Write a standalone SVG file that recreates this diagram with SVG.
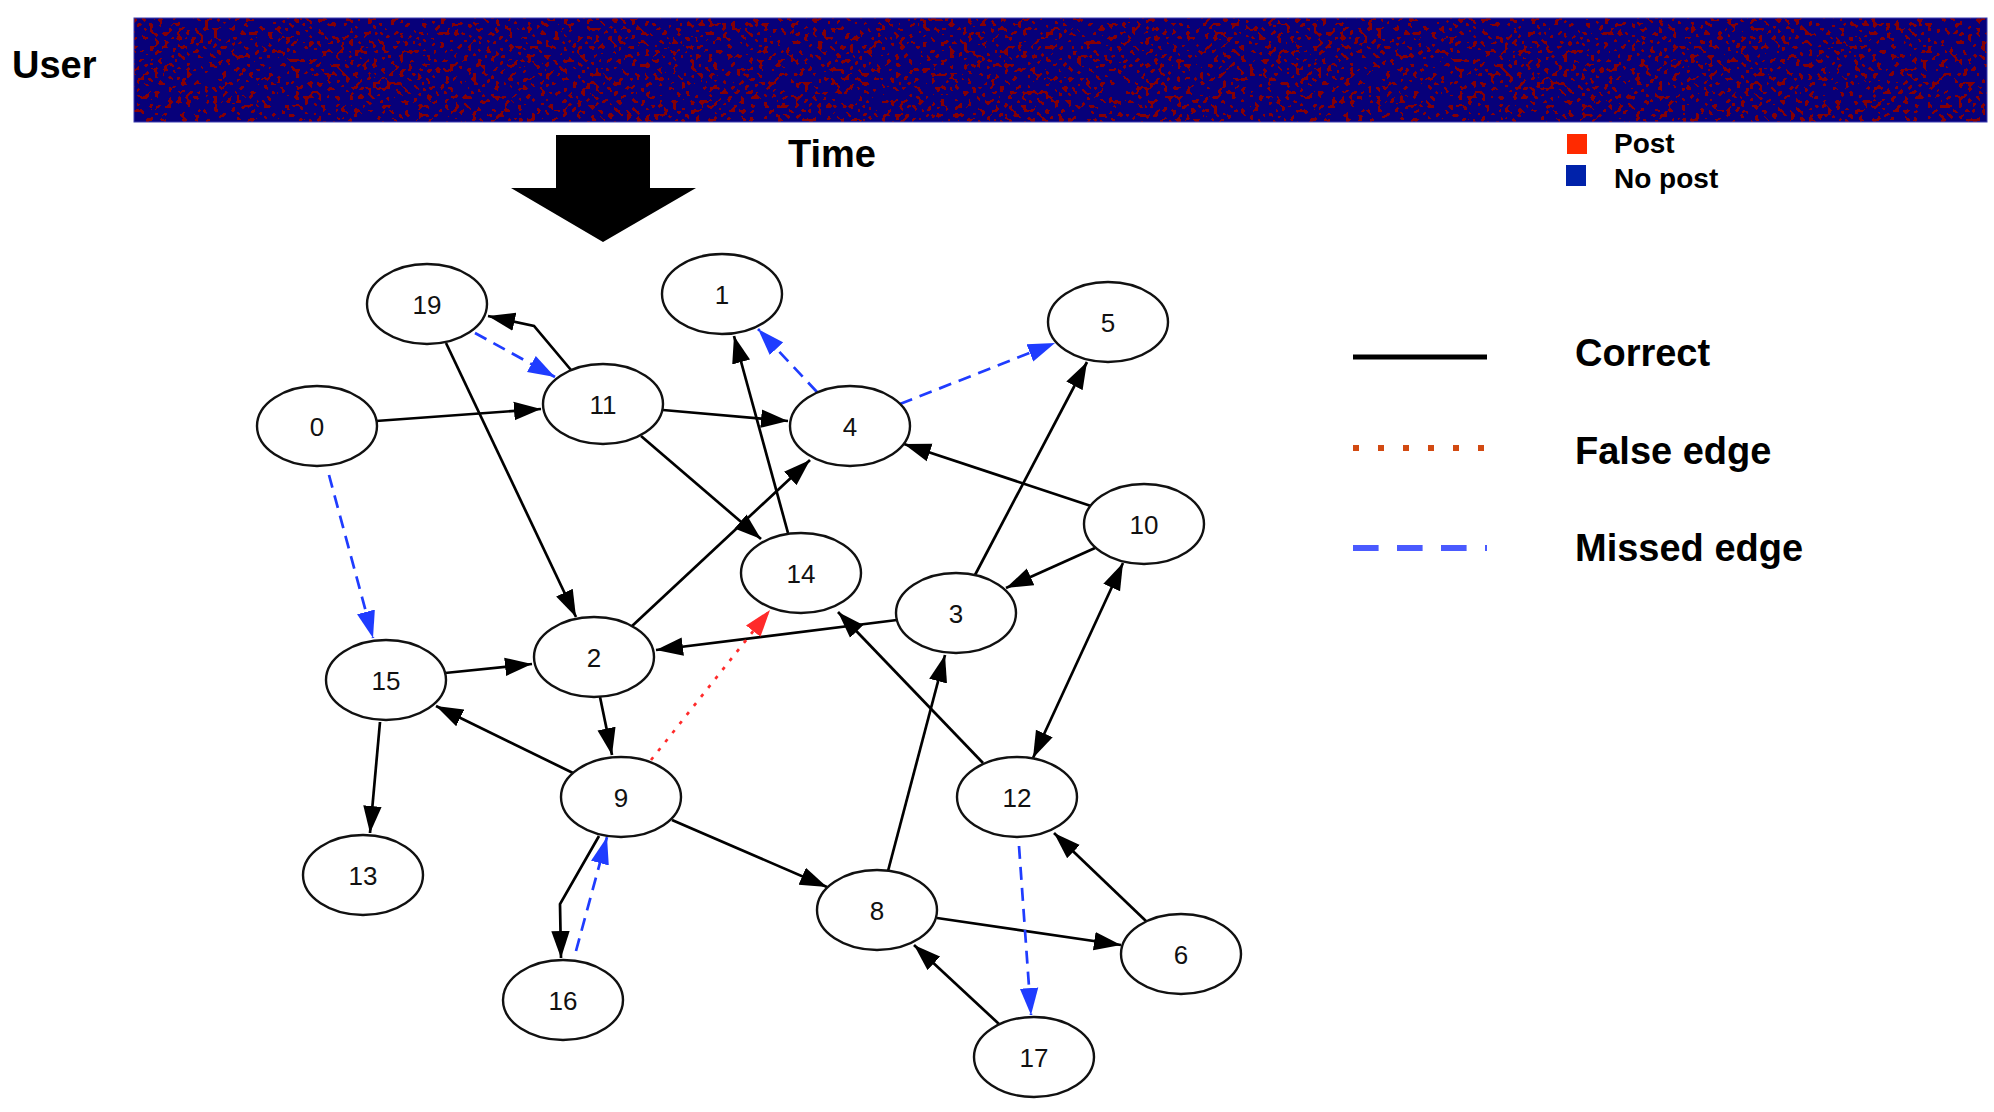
<svg xmlns="http://www.w3.org/2000/svg" width="1994" height="1112" viewBox="0 0 1994 1112">
<style>
  .bold { font-family: "Liberation Sans", Arial, sans-serif; font-weight: bold; fill: #000; }
  .node ellipse { fill: #fff; stroke: #111; stroke-width: 2.4; }
  .node text { font-family: "Liberation Sans", Arial, sans-serif; font-size: 26px; text-anchor: middle; fill: #111; }
  .e { fill: none; stroke: #000; stroke-width: 2.7; }
  .ok { stroke: #000; marker-end: url(#ahBlack); }
  .miss { stroke: #1f3cff; stroke-dasharray: 13 8; marker-end: url(#ahBlue); }
  .false { stroke: #ff2a2a; stroke-dasharray: 3.5 8; marker-end: url(#ahRed); }
</style>
<defs>
  <marker id="ahBlack" markerUnits="userSpaceOnUse" markerWidth="28" markerHeight="20" refX="27" refY="10" orient="auto">
    <path d="M0,0.8 L27,10 L0,19.2 z" fill="#000"/>
  </marker>
  <marker id="ahBlackStart" markerUnits="userSpaceOnUse" markerWidth="28" markerHeight="20" refX="27" refY="10" orient="auto-start-reverse">
    <path d="M0,0.8 L27,10 L0,19.2 z" fill="#000"/>
  </marker>
  <marker id="ahBlue" markerUnits="userSpaceOnUse" markerWidth="28" markerHeight="20" refX="27" refY="10" orient="auto">
    <path d="M0,0.8 L27,10 L0,19.2 z" fill="#1f3cff"/>
  </marker>
  <marker id="ahRed" markerUnits="userSpaceOnUse" markerWidth="28" markerHeight="20" refX="27" refY="10" orient="auto">
    <path d="M0,0.8 L27,10 L0,19.2 z" fill="#ff2a2a"/>
  </marker>
  <filter id="speck" filterUnits="objectBoundingBox" x="0" y="0" width="1" height="1" color-interpolation-filters="sRGB">
    <feTurbulence type="fractalNoise" baseFrequency="0.22" numOctaves="1" seed="7" result="n"/>
    <feColorMatrix in="n" type="matrix" values="0 0 0 0 0.52  0 0 0 0 0  0 0 0 0 0.02  1 0 0 0 0" result="a"/>
    <feComponentTransfer in="a">
      <feFuncA type="discrete" tableValues="0 0 0 0 0 0 0 0 0 0 0 0 1 1 1 1 1 1 1 1"/>
    </feComponentTransfer>
  </filter>
</defs>

<rect width="1994" height="1112" fill="#fff"/>

<!-- top banner -->
<g id="banner">
  <rect x="134" y="18" width="1853" height="104" fill="#07007a"/>
  <rect x="134" y="18" width="1853" height="104" fill="#000" filter="url(#speck)"/>
  <rect x="134" y="18" width="1853" height="104" fill="none" stroke="#3c3cb0" stroke-width="1"/>
</g>
<text class="bold" x="12" y="78" font-size="38">User</text>
<text class="bold" x="788" y="167" font-size="38">Time</text>

<!-- big arrow -->
<path id="timeArrow" d="M556,135 L650,135 L650,188 L696,188 L603,242 L511,188 L556,188 z" fill="#000"/>

<!-- post legend -->
<g id="postLegend">
  <rect x="1567" y="134" width="20" height="20" fill="#ff2a00"/>
  <text class="bold" x="1614" y="153" font-size="28">Post</text>
  <rect x="1566" y="165" width="20" height="21" fill="#0022aa"/>
  <text class="bold" x="1614" y="188" font-size="28">No post</text>
</g>

<!-- edge legend -->
<g id="edgeLegend">
  <line x1="1353" y1="357" x2="1487" y2="357" stroke="#000" stroke-width="5"/>
  <text class="bold" x="1575" y="366" font-size="38">Correct</text>
  <line x1="1353" y1="448" x2="1487" y2="448" stroke="#d24a12" stroke-width="6" stroke-dasharray="6 19"/>
  <text class="bold" x="1575" y="464" font-size="38">False edge</text>
  <line x1="1353" y1="548" x2="1487" y2="548" stroke="#4a5aff" stroke-width="6" stroke-dasharray="25.6 18.4"/>
  <text class="bold" x="1575" y="561" font-size="38">Missed edge</text>
</g>

<!-- connectors -->
<g id="connectors">
  <line class="e ok" x1="446" y1="343" x2="576" y2="617"/>
  <polyline class="e ok" points="571,370 534,326 488,316"/>
  <line class="e miss" x1="475" y1="333" x2="555" y2="377"/>
  <line class="e ok" x1="376" y1="421" x2="541" y2="409"/>
  <line class="e ok" x1="663" y1="410" x2="788" y2="421"/>
  <line class="e ok" x1="641" y1="436" x2="761" y2="539"/>
  <line class="e ok" x1="788" y1="533" x2="734" y2="336"/>
  <line class="e miss" x1="817" y1="392" x2="758" y2="329"/>
  <line class="e ok" x1="631" y1="627" x2="810" y2="460"/>
  <line class="e miss" x1="329" y1="475" x2="373" y2="638"/>
  <line class="e ok" x1="897" y1="620" x2="656" y2="650"/>
  <line class="e false" x1="651" y1="760" x2="770" y2="610"/>
  <line class="e ok" x1="983" y1="763" x2="838" y2="612"/>
  <line class="e ok" x1="445" y1="673" x2="532" y2="664"/>
  <line class="e ok" x1="600" y1="697" x2="612" y2="755"/>
  <line class="e ok" x1="573" y1="773" x2="436" y2="706"/>
  <line class="e ok" x1="380" y1="722" x2="370" y2="833"/>
  <line class="e ok" x1="672" y1="820" x2="827" y2="887"/>
  <polyline class="e ok" points="599,836 560,904 561,958"/>
  <line class="e miss" x1="576" y1="951" x2="607" y2="837"/>
  <line class="e miss" x1="900" y1="404" x2="1055" y2="343"/>
  <line class="e ok" x1="975" y1="575" x2="1087" y2="362"/>
  <line class="e ok" x1="1091" y1="506" x2="904" y2="444"/>
  <line class="e ok" x1="1095" y1="548" x2="1006" y2="588"/>
  <line class="e ok" x1="1123" y1="563" x2="1033" y2="758" marker-start="url(#ahBlackStart)"/>
  <line class="e ok" x1="888" y1="871" x2="945" y2="655"/>
  <line class="e ok" x1="937" y1="918" x2="1121" y2="945"/>
  <line class="e ok" x1="1147" y1="922" x2="1054" y2="833"/>
  <line class="e miss" x1="1019" y1="846" x2="1031" y2="1015"/>
  <line class="e ok" x1="999" y1="1024" x2="914" y2="945"/>
</g>

<!-- nodes -->
<g id="node19" class="node"><ellipse cx="427" cy="304" rx="60" ry="40"/><text x="427" y="314">19</text></g>
<g id="node1" class="node"><ellipse cx="722" cy="294" rx="60" ry="40"/><text x="722" y="304">1</text></g>
<g id="node11" class="node"><ellipse cx="603" cy="404" rx="60" ry="40"/><text x="603" y="414">11</text></g>
<g id="node0" class="node"><ellipse cx="317" cy="426" rx="60" ry="40"/><text x="317" y="436">0</text></g>
<g id="node4" class="node"><ellipse cx="850" cy="426" rx="60" ry="40"/><text x="850" y="436">4</text></g>
<g id="node5" class="node"><ellipse cx="1108" cy="322" rx="60" ry="40"/><text x="1108" y="332">5</text></g>
<g id="node10" class="node"><ellipse cx="1144" cy="524" rx="60" ry="40"/><text x="1144" y="534">10</text></g>
<g id="node14" class="node"><ellipse cx="801" cy="573" rx="60" ry="40"/><text x="801" y="583">14</text></g>
<g id="node3" class="node"><ellipse cx="956" cy="613" rx="60" ry="40"/><text x="956" y="623">3</text></g>
<g id="node2" class="node"><ellipse cx="594" cy="657" rx="60" ry="40"/><text x="594" y="667">2</text></g>
<g id="node15" class="node"><ellipse cx="386" cy="680" rx="60" ry="40"/><text x="386" y="690">15</text></g>
<g id="node9" class="node"><ellipse cx="621" cy="797" rx="60" ry="40"/><text x="621" y="807">9</text></g>
<g id="node12" class="node"><ellipse cx="1017" cy="797" rx="60" ry="40"/><text x="1017" y="807">12</text></g>
<g id="node13" class="node"><ellipse cx="363" cy="875" rx="60" ry="40"/><text x="363" y="885">13</text></g>
<g id="node8" class="node"><ellipse cx="877" cy="910" rx="60" ry="40"/><text x="877" y="920">8</text></g>
<g id="node6" class="node"><ellipse cx="1181" cy="954" rx="60" ry="40"/><text x="1181" y="964">6</text></g>
<g id="node16" class="node"><ellipse cx="563" cy="1000" rx="60" ry="40"/><text x="563" y="1010">16</text></g>
<g id="node17" class="node"><ellipse cx="1034" cy="1057" rx="60" ry="40"/><text x="1034" y="1067">17</text></g>
</svg>
